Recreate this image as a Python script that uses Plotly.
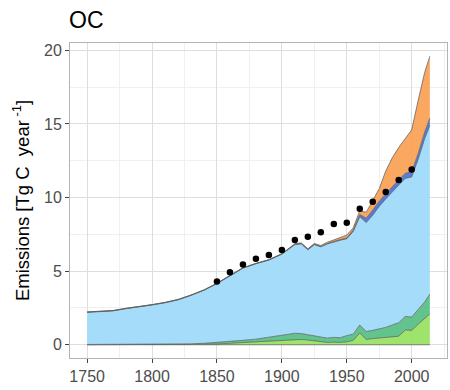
import plotly.graph_objects as go

years = [1750, 1760, 1770, 1780, 1790, 1800, 1810, 1820, 1830, 1840, 1850, 1860, 1870,
         1880, 1890, 1900, 1905, 1910, 1915, 1920, 1925, 1930, 1935, 1940, 1945, 1950,
         1955, 1960, 1965, 1970, 1975, 1980, 1985, 1990, 1995, 2000, 2005, 2010, 2014]

# cumulative tops of each stacked layer
top_lightgreen = [0, 0, 0, 0, 0, 0, 0, 0, 0, 0.02, 0.05, 0.1, 0.15,
                  0.2, 0.23, 0.3, 0.33, 0.36, 0.36, 0.32, 0.27, 0.2, 0.16, 0.18, 0.16, 0.2,
                  0.3, 0.8, 0.36, 0.42, 0.46, 0.5, 0.53, 0.58, 1.0, 0.98, 1.4, 1.8, 2.1]
top_seagreen = [0.02, 0.02, 0.02, 0.02, 0.02, 0.02, 0.03, 0.04, 0.06, 0.1, 0.15, 0.25, 0.3,
                0.38, 0.5, 0.65, 0.72, 0.78, 0.76, 0.68, 0.6, 0.48, 0.45, 0.5, 0.48, 0.62,
                0.72, 1.34, 0.9, 0.98, 1.08, 1.18, 1.34, 1.5, 1.92, 1.88, 2.4, 2.9, 3.45]
top_lightblue = [2.2, 2.25, 2.3, 2.45, 2.55, 2.7, 2.85, 3.05, 3.35, 3.7, 4.15, 4.7, 5.2,
                 5.5, 5.75, 6.15, 6.5, 6.8, 6.85, 6.45, 6.8, 6.65, 6.85, 7.0, 7.1, 7.2,
                 7.7, 8.7, 8.3, 8.8, 9.4, 9.9, 10.4, 10.85, 11.3, 11.4, 12.6, 14.0, 14.9]
top_darkblue = [2.22, 2.27, 2.32, 2.47, 2.57, 2.72, 2.87, 3.07, 3.37, 3.72, 4.17, 4.72, 5.22,
                5.52, 5.77, 6.17, 6.52, 6.83, 6.88, 6.48, 6.83, 6.68, 6.88, 7.04, 7.15, 7.26,
                7.8, 8.85, 8.6, 9.15, 9.75, 10.25, 10.75, 11.2, 11.65, 11.75, 13.0, 14.45, 15.4]
top_orange = [2.23, 2.28, 2.33, 2.48, 2.58, 2.73, 2.88, 3.08, 3.38, 3.73, 4.18, 4.73, 5.23,
              5.53, 5.78, 6.19, 6.54, 6.86, 6.92, 6.52, 6.88, 6.74, 6.96, 7.14, 7.3, 7.45,
              7.95, 9.1, 9.0, 9.8, 10.6, 11.8, 12.7, 13.4, 14.0, 14.6, 16.6, 18.5, 19.6]

obs_years = [1850, 1860, 1870, 1880, 1890, 1900, 1910, 1920, 1930, 1940, 1950, 1960,
             1970, 1980, 1990, 2000]
obs_values = [4.29, 4.93, 5.45, 5.85, 6.1, 6.44, 7.12, 7.34, 7.64, 8.2, 8.29, 9.24,
              9.72, 10.37, 11.19, 11.9]

x_ticks = [1750, 1800, 1850, 1900, 1950, 2000]
y_ticks = [0, 5, 10, 15, 20]

layers = [
    (top_lightgreen, "rgba(150,225,95,0.92)"),
    (top_seagreen, "rgba(85,190,130,0.92)"),
    (top_lightblue, "rgba(160,218,250,0.95)"),
    (top_darkblue, "rgba(70,115,215,0.92)"),
    (top_orange, "rgba(250,160,85,0.92)"),
]

fig = go.Figure()
fig.add_trace(go.Scatter(x=years, y=[0] * len(years), mode="lines",
                         line=dict(color="rgba(90,90,90,0.9)", width=0.8),
                         showlegend=False, hoverinfo="skip"))
for tops, col in layers:
    fig.add_trace(go.Scatter(x=years, y=tops, mode="lines", fill="tonexty",
                             fillcolor=col, line=dict(color="rgba(90,90,90,0.9)", width=0.8),
                             showlegend=False))

fig.add_trace(go.Scatter(x=obs_years, y=obs_values, mode="markers",
                         marker=dict(color="black", size=6.5), showlegend=False))

axis_common = dict(
    showline=True, mirror=True, linecolor="#b3b3b3", linewidth=1,
    showgrid=True, gridcolor="#dedede", gridwidth=1,
    ticks="outside", ticklen=4, tickcolor="#444", tickwidth=1.2,
    tickfont=dict(family="Liberation Sans, Arial", size=16, color="#4d4d4d"),
    zeroline=False,
    minor=dict(showgrid=True, gridcolor="#f0f0f0", gridwidth=0.8),
)

fig.update_layout(
    width=450, height=390,
    margin=dict(l=70, r=3, t=43, b=32),
    paper_bgcolor="white", plot_bgcolor="white",
    title=dict(text="OC", x=69 / 450, xanchor="left", y=1 - 20 / 390, yanchor="middle",
               font=dict(family="Liberation Sans, Arial", size=23, color="black")),
    xaxis=dict(range=[1736.8, 2027.2], tickvals=x_ticks, **axis_common),
    yaxis=dict(range=[-0.9, 20.5], tickvals=y_ticks,
               title=dict(text="Emissions [Tg C  year<sup> -1</sup>]", standoff=9,
                          font=dict(family="Liberation Sans, Arial", size=18.5, color="black")),
               **axis_common),
)
fig.update_xaxes(minor=dict(tickvals=[1775, 1825, 1875, 1925, 1975, 2025], ticks=""))
fig.update_yaxes(minor=dict(tickvals=[2.5, 7.5, 12.5, 17.5], ticks=""))

fig.write_html("out.html")
